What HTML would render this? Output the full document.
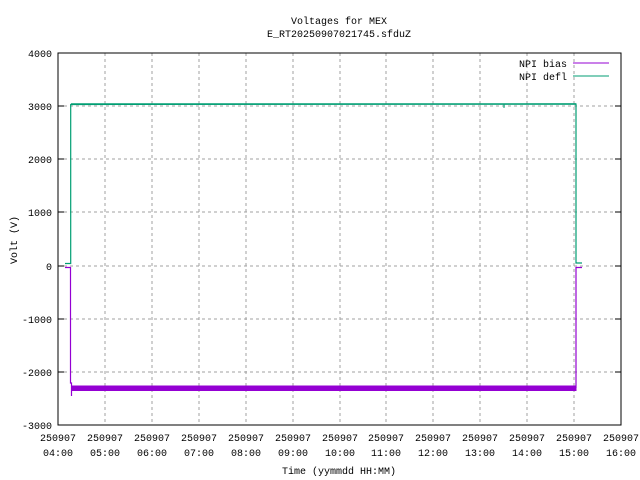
<!DOCTYPE html>
<html><head><meta charset="utf-8"><style>
body{margin:0;background:#fff}
svg{display:block}
text{font-family:"Liberation Mono","DejaVu Sans Mono",monospace;font-size:10px;fill:#000}
</style></head><body>
<svg width="640" height="480" viewBox="0 0 640 480" xmlns="http://www.w3.org/2000/svg">
<rect width="640" height="480" fill="#fff"/>
<g stroke="#a0a0a0" stroke-dasharray="3,3" stroke-width="1">
<line x1="105" y1="53" x2="105" y2="425"/><line x1="152" y1="53" x2="152" y2="425"/>
<line x1="199" y1="53" x2="199" y2="425"/><line x1="246" y1="53" x2="246" y2="425"/>
<line x1="293" y1="53" x2="293" y2="425"/><line x1="340" y1="53" x2="340" y2="425"/>
<line x1="386" y1="53" x2="386" y2="425"/><line x1="433" y1="53" x2="433" y2="425"/>
<line x1="480" y1="53" x2="480" y2="425"/><line x1="527" y1="53" x2="527" y2="425"/>
<line x1="574" y1="53" x2="574" y2="425"/>
<line x1="58" y1="372" x2="621" y2="372"/><line x1="58" y1="319" x2="621" y2="319"/>
<line x1="58" y1="266" x2="621" y2="266"/><line x1="58" y1="212" x2="621" y2="212"/>
<line x1="58" y1="159" x2="621" y2="159"/><line x1="58" y1="106" x2="621" y2="106"/>
</g>
<polyline fill="none" stroke="#009e73" stroke-width="1.2" points="65,263.5 70.7,263.5 70.7,104.5 576,104 576,263 582,263"/>
<line x1="71" y1="104" x2="576" y2="104" stroke="#009e73" stroke-width="1.5"/>
<line x1="504" y1="104" x2="504" y2="108" stroke="#009e73"/>
<polyline fill="none" stroke="#9400d3" stroke-width="1.2" points="65,267.5 70.5,267.5 70.5,383 71.5,383 71.5,396"/>
<rect x="71.5" y="385.5" width="505" height="5.5" fill="#9400d3"/>
<polyline fill="none" stroke="#9400d3" stroke-width="1.2" points="576,388 576,267.5 582,267.5"/>
<rect x="58" y="53" width="563" height="372" fill="none" stroke="#000" stroke-width="1"/>
<g stroke="#000">
<line x1="58" y1="372" x2="64" y2="372"/><line x1="58" y1="319" x2="64" y2="319"/><line x1="58" y1="266" x2="64" y2="266"/><line x1="58" y1="212" x2="64" y2="212"/><line x1="58" y1="159" x2="64" y2="159"/><line x1="58" y1="106" x2="64" y2="106"/>
<line x1="621" y1="372" x2="615" y2="372"/><line x1="621" y1="319" x2="615" y2="319"/><line x1="621" y1="266" x2="615" y2="266"/><line x1="621" y1="212" x2="615" y2="212"/><line x1="621" y1="159" x2="615" y2="159"/><line x1="621" y1="106" x2="615" y2="106"/>
</g>
<g text-anchor="end">
<text x="52" y="429">-3000</text><text x="52" y="376">-2000</text><text x="52" y="323">-1000</text>
<text x="52" y="270">0</text><text x="52" y="216">1000</text><text x="52" y="163">2000</text>
<text x="52" y="110">3000</text><text x="52" y="57">4000</text>
</g>
<g text-anchor="middle">
<text x="58" y="441">250907</text><text x="58" y="456">04:00</text>
<text x="105" y="441">250907</text><text x="105" y="456">05:00</text>
<text x="152" y="441">250907</text><text x="152" y="456">06:00</text>
<text x="199" y="441">250907</text><text x="199" y="456">07:00</text>
<text x="246" y="441">250907</text><text x="246" y="456">08:00</text>
<text x="293" y="441">250907</text><text x="293" y="456">09:00</text>
<text x="340" y="441">250907</text><text x="340" y="456">10:00</text>
<text x="386" y="441">250907</text><text x="386" y="456">11:00</text>
<text x="433" y="441">250907</text><text x="433" y="456">12:00</text>
<text x="480" y="441">250907</text><text x="480" y="456">13:00</text>
<text x="527" y="441">250907</text><text x="527" y="456">14:00</text>
<text x="574" y="441">250907</text><text x="574" y="456">15:00</text>
<text x="621" y="441">250907</text><text x="621" y="456">16:00</text>
<text x="339" y="474">Time (yymmdd HH:MM)</text>
<text x="339" y="24">Voltages for MEX</text>
<text x="339" y="37">E_RT20250907021745.sfduZ</text>
<text x="17" y="240" transform="rotate(-90 17 240)">Volt (V)</text>
</g>
<text x="567" y="67" text-anchor="end">NPI bias</text>
<line x1="573" y1="63" x2="609" y2="63" stroke="#9400d3"/>
<text x="567" y="80" text-anchor="end">NPI defl</text>
<line x1="573" y1="76" x2="609" y2="76" stroke="#009e73"/>
</svg>
</body></html>
